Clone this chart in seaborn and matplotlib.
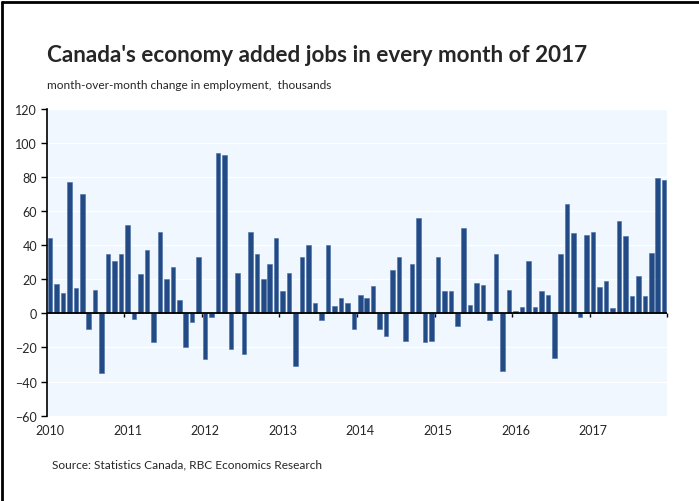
import matplotlib
matplotlib.use("Agg")
import matplotlib.pyplot as plt
import seaborn as sns
import pandas as pd
from matplotlib.lines import Line2D

# Monthly change in employment, thousands, Jan 2010 - Dec 2017
years = ["2010", "2011", "2012", "2013", "2014", "2015", "2016", "2017"]
changes_2010 = [44, 17, 12, 77, 15, 70, -9, 14, -35, 35, 31, 35]
changes_2011 = [52, -3, 23, 37, -17, 48, 20, 27, 8, -20, -5, 33]
changes_2012 = [-27, -2, 94, 93, -21, 24, -24, 48, 35, 20, 29, 44]
changes_2013 = [13, 24, -31, 33, 40, 6, -4, 40, 4.5, 9, 6, -9]
changes_2014 = [11, 9, 16, -9, -13, 25.5, 33, -16, 29, 56, -17, -16]
changes_2015 = [33, 13, 13, -7.5, 50, 5, 18, 16.5, -4, 35, -34, 14]
changes_2016 = [1.5, 3.5, 31, 4, 13, 11, -26, 35, 64.5, 47, -2, 46]
changes_2017 = [48, 15.5, 19, 3, 54.5, 45.5, 10.5, 22, 10, 35.5, 79.5, 78.5]

values = (changes_2010 + changes_2011 + changes_2012 + changes_2013 +
          changes_2014 + changes_2015 + changes_2016 + changes_2017)
df = pd.DataFrame({"month": list(range(len(values))), "change": values})

title = "Canada's economy added jobs in every month of 2017"
subtitle = "month-over-month change in employment,  thousands"
source = "Source: Statistics Canada, RBC Economics Research"

sns.set_style("white")
plt.rcParams["font.family"] = ["Lato", "DejaVu Sans"]

fig = plt.figure(figsize=(6.99, 5.02), dpi=100)
ax = fig.add_axes([0.0668, 0.170, 0.888, 0.611])
ax.set_facecolor("#f0f7ff")

sns.barplot(data=df, x="month", y="change", color="#224a84", saturation=1,
            width=0.7, edgecolor="#4a6fa5", linewidth=0.4, ax=ax, zorder=3)

ax.set_xlim(-0.5, len(values) - 0.5)
ax.set_ylim(-60, 120)
ax.set_yticks(range(-60, 121, 20))
ax.yaxis.grid(True, color="white", linewidth=1.0, zorder=0)
ax.set_axisbelow(True)
ax.tick_params(axis="y", direction="out", length=4, width=1, color="black",
               labelsize=9, pad=3, left=True)
ax.set_xlabel("")
ax.set_ylabel("")

# year labels centred on January bars
ax.set_xticks([12 * i for i in range(len(years))])
ax.set_xticklabels(years, fontsize=9)
ax.tick_params(axis="x", length=0, pad=6)

for s in ["top", "right", "bottom"]:
    ax.spines[s].set_visible(False)
ax.spines["left"].set_color("black")
ax.spines["left"].set_linewidth(1.2)

ax.axhline(0, color="black", linewidth=1.3, zorder=4)
sec = ax.secondary_xaxis(60 / 180)
sec.set_xticks([12 * i - 0.5 for i in range(1, len(years) + 1)])
sec.set_xticklabels([])
sec.tick_params(axis="x", direction="out", length=3, width=1, color="black")
sec.spines["bottom"].set_visible(False)

fig.text(0.067, 0.889, title, fontsize=16.2, fontweight="bold", va="center", ha="left")
fig.text(0.067, 0.829, subtitle, fontsize=8.6, va="center", ha="left")
fig.text(0.075, 0.074, source, fontsize=8.6, va="center", ha="left")

fig.add_artist(Line2D([0.003, 0.003], [0.0, 0.995], transform=fig.transFigure,
                      color="black", linewidth=2))
fig.add_artist(Line2D([0.003, 1.0], [0.995, 0.995], transform=fig.transFigure,
                      color="black", linewidth=2))

fig.savefig("out.png", dpi=100)
